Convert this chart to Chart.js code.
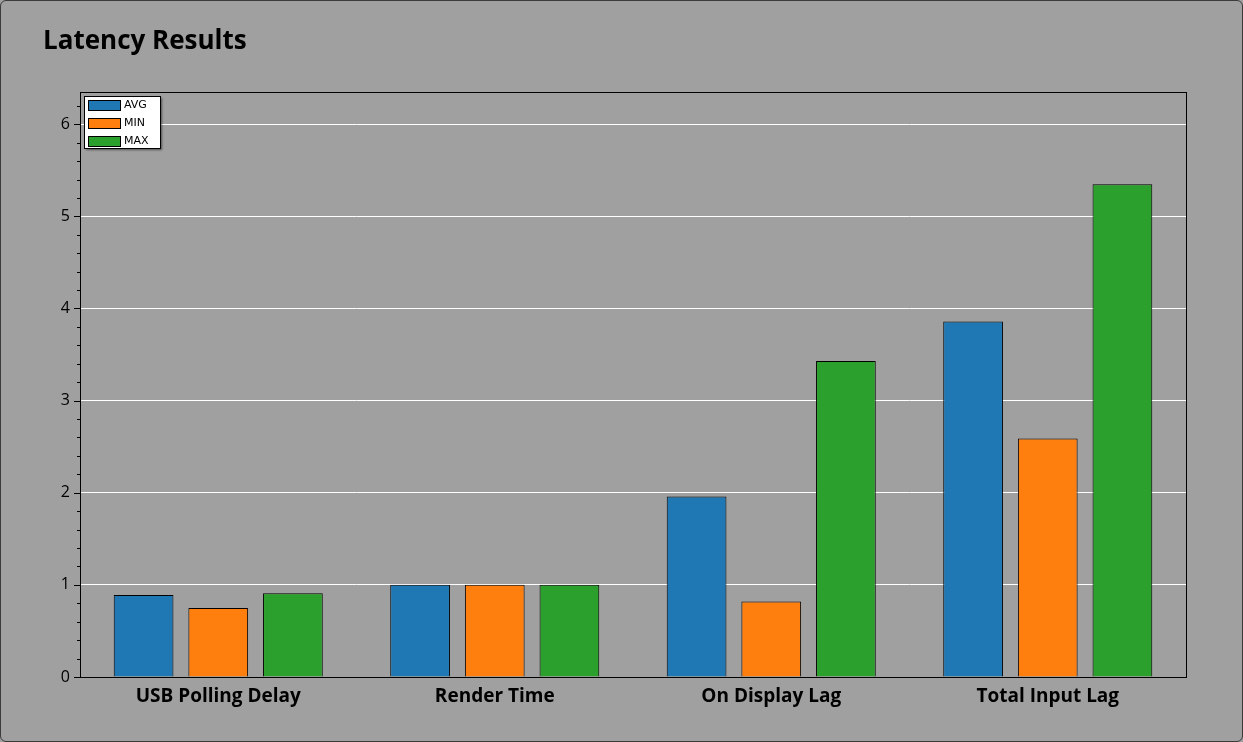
<!DOCTYPE html>
<html><head><meta charset="utf-8">
<script src="https://cdn.jsdelivr.net/npm/chart.js@4"></script>
<style>
html,body{margin:0;padding:0;background:#a0a0a0;}
#wrap{position:absolute;left:0;top:0;width:1241px;height:740px;border:1px solid #3a3a3a;border-radius:6px;overflow:hidden;background:#a0a0a0;}
canvas{display:block;}
</style></head><body>
<div id="wrap"><canvas id="c" width="1241" height="740"></canvas></div>
<script>
const categories = ["USB Polling Delay","Render Time","On Display Lag","Total Input Lag"];
const avgValues = [0.89, 1.0, 1.96, 3.86];
const minValues = [0.75, 1.0, 0.82, 2.59];
const maxValues = [0.91, 1.0, 3.43, 5.35];
const yTicks = [0,1,2,3,4,5,6];

const frame = {
  id:'frame',
  beforeDraw(chart){
    const {ctx} = chart;
    ctx.save();
    ctx.fillStyle='#000';
    ctx.font='bold 26px "Open Sans", "Noto Sans", sans-serif';
    ctx.textBaseline='alphabetic';
    ctx.fillText('Latency Results', 42, 48);
    ctx.restore();
  },
  afterDraw(chart){
    const {ctx, chartArea:a, scales:{y}} = chart;
    ctx.save();
    ctx.strokeStyle='#000'; ctx.lineWidth=1;
    ctx.strokeRect(a.left+0.5, a.top+0.5, a.right-a.left, a.bottom-a.top);
    // minor ticks
    for(let v=0; v<=y.max+1e-9; v+=0.2){
      const py=Math.round(y.getPixelForValue(v))+0.5;
      const major = Math.abs(v-Math.round(v))<1e-6;
      ctx.beginPath(); ctx.moveTo(a.left-(major?6:3),py); ctx.lineTo(a.left,py); ctx.stroke();
    }
    // legend
    const lx=a.left+4, ly=a.top+4, w=76, h=52;
    ctx.shadowColor='rgba(0,0,0,0.5)'; ctx.shadowOffsetX=2; ctx.shadowOffsetY=2; ctx.shadowBlur=2;
    ctx.fillStyle='#fff'; ctx.fillRect(lx,ly,w,h);
    ctx.shadowColor='transparent';
    ctx.strokeRect(lx+0.5,ly+0.5,w,h);
    ctx.font='11px "DejaVu Sans", sans-serif'; ctx.textBaseline='middle';
    chart.data.datasets.forEach((ds,i)=>{
      const yy=ly+8+i*18;
      ctx.fillStyle=ds.backgroundColor; ctx.fillRect(lx+4,yy-4,32,10);
      ctx.strokeStyle='#000'; ctx.strokeRect(lx+4.5,yy-3.5,32,10);
      ctx.fillStyle='#000'; ctx.fillText(ds.label, lx+40, yy+1);
    });
    ctx.restore();
  }
};

new Chart(document.getElementById('c'), {
  type:'bar',
  data:{labels:categories, datasets:[
    {label:'AVG', data:avgValues, backgroundColor:'#1f77b4'},
    {label:'MIN', data:minValues, backgroundColor:'#ff7f0e'},
    {label:'MAX', data:maxValues, backgroundColor:'#2ca02c'}
  ].map(d=>Object.assign(d,{borderColor:'#000',borderWidth:1,categoryPercentage:0.81,barPercentage:0.8}))},
  options:{
    responsive:false, animation:false,
    layout:{padding:{top:91,right:56,bottom:0,left:0}},
    plugins:{legend:{display:false},tooltip:{enabled:false}},
    scales:{
      x:{grid:{display:false,drawTicks:false},border:{display:false},
         ticks:{color:'#000',padding:8,font:{family:'"Open Sans", "Noto Sans", sans-serif',size:19,weight:'bold'}},
         afterFit(s){s.height=64;}},
      y:{min:0,max:6.35,grid:{color:'#ffffff',lineWidth:1,drawTicks:false},border:{display:false},
         afterBuildTicks(s){s.ticks=yTicks.map(v=>({value:v}));},
         ticks:{color:'#000',padding:10,font:{family:'"Open Sans", "Noto Sans", sans-serif',size:16}},
         afterFit(s){s.width=79;}}
    }
  },
  plugins:[frame]
});
</script>
</body></html>
